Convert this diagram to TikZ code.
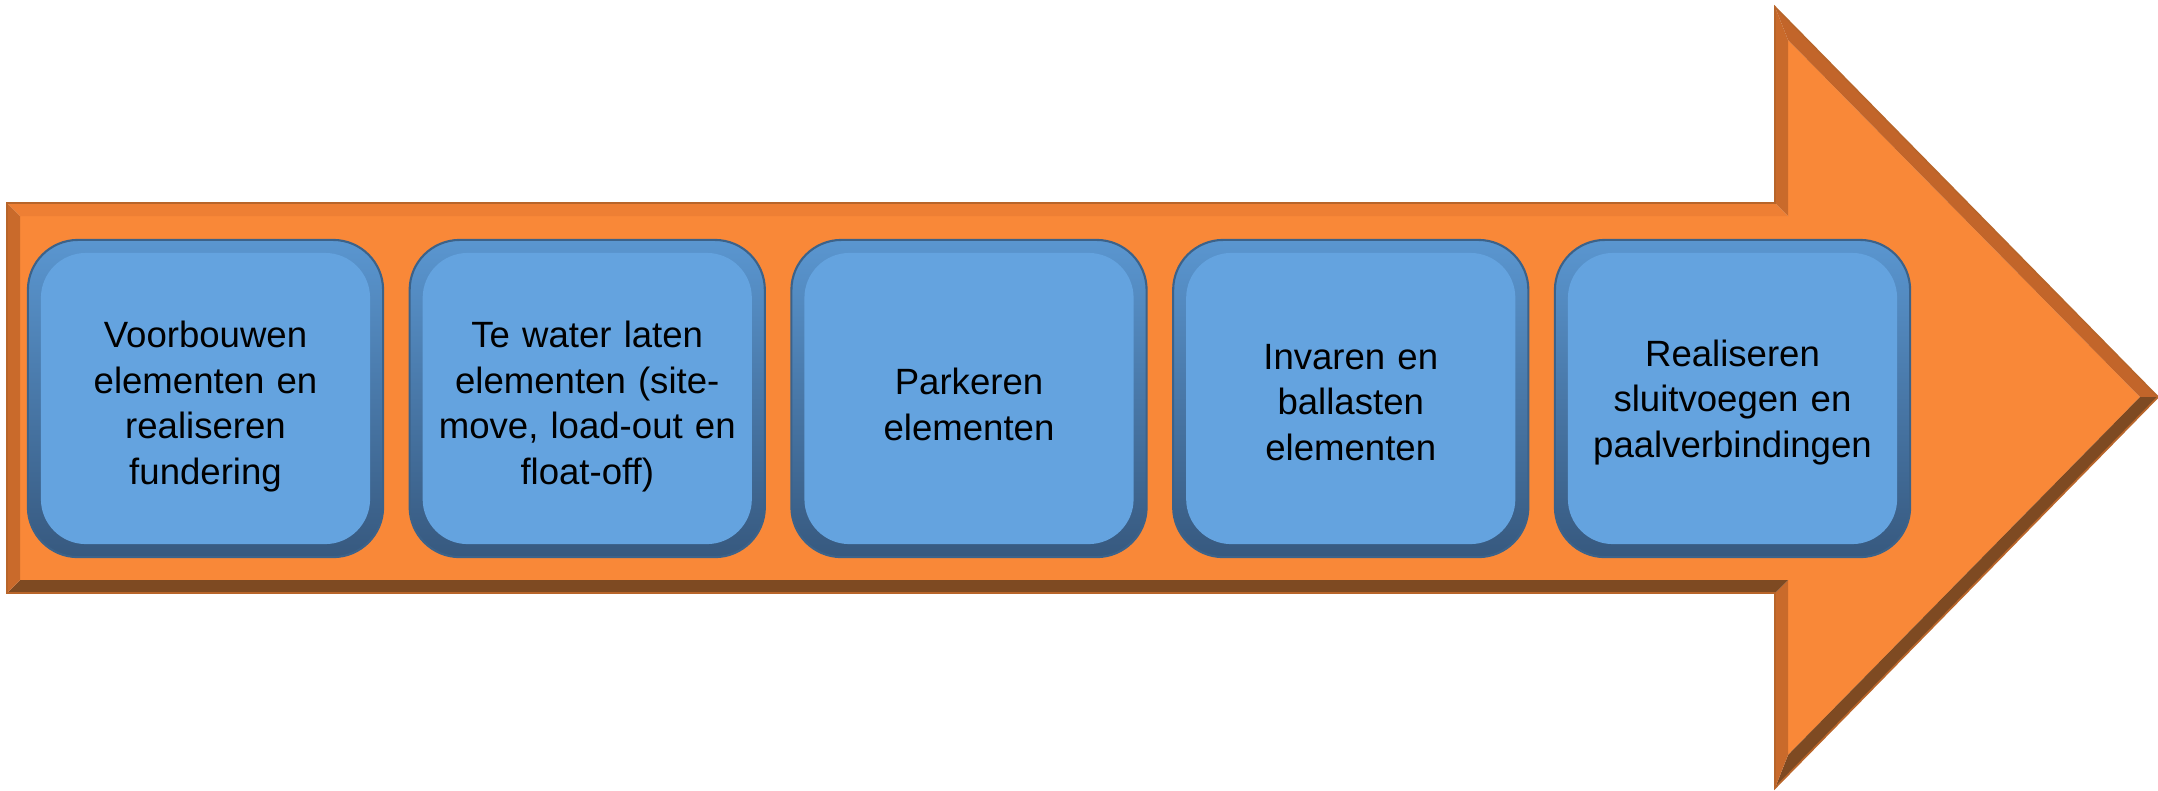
\documentclass[tikz,border=0pt]{standalone}
\usepackage{fontspec}
\setmainfont{Liberation Sans}
\definecolor{arrowfill}{HTML}{F98838}
\definecolor{bevtop}{HTML}{EE7F34}
\definecolor{bevside}{HTML}{C96A2B}
\definecolor{bevdiag}{HTML}{C2652A}
\definecolor{bevdark}{HTML}{7E4A22}
\definecolor{arrowedge}{HTML}{B8652A}
\definecolor{boxfill}{HTML}{64A3DF}
\definecolor{boxlight}{HTML}{5A96D0}
\definecolor{boxdark}{HTML}{37597F}
\definecolor{boxedge}{HTML}{3C6289}
\tikzset{
  boxouter/.style={rounded corners=0.5cm, minimum width=3.55cm, minimum height=3.17cm,
    top color=boxlight, bottom color=boxdark, draw=boxedge, line width=0.6pt, inner sep=0pt},
  boxinner/.style={rounded corners=0.45cm, minimum width=3.29cm, minimum height=2.91cm,
    fill=boxfill, inner sep=0pt, text width=3.1cm, align=center,
    font=\fontsize{10.4}{13}\selectfont, text=black},
  lbl/.style={inner sep=0pt, text width=3.1cm, align=center,
    font=\fontsize{10.4}{13}\selectfont, text=black}
}
\begin{document}
\begin{tikzpicture}[x=0.01cm,y=-0.01cm]
\useasboundingbox (0,0) rectangle (2158,790);
% outer and inner outline points
\coordinate (O1) at (7,203);
\coordinate (O2) at (1775,203);
\coordinate (O3) at (1775,7);
\coordinate (O4) at (2158,397);
\coordinate (O5) at (1775,788);
\coordinate (O6) at (1775,593);
\coordinate (O7) at (7,593);
\coordinate (I1) at (20,216);
\coordinate (I2) at (1788,216);
\coordinate (I3) at (1788,40);
\coordinate (I4) at (2140,397);
\coordinate (I5) at (1788,755);
\coordinate (I6) at (1788,580);
\coordinate (I7) at (20,580);
% body
\fill[arrowfill] (I1) -- (I2) -- (I3) -- (I4) -- (I5) -- (I6) -- (I7) -- cycle;
% bevel faces
\fill[bevtop] (O1) -- (O2) -- (I2) -- (I1) -- cycle;
\fill[bevside] (O2) -- (O3) -- (I3) -- (I2) -- cycle;
\fill[bevdiag] (O3) -- (O4) -- (I4) -- (I3) -- cycle;
\fill[bevdark] (O4) -- (O5) -- (I5) -- (I4) -- cycle;
\fill[bevside] (O5) -- (O6) -- (I6) -- (I5) -- cycle;
\fill[bevdark] (O6) -- (O7) -- (I7) -- (I6) -- cycle;
\fill[bevside] (O7) -- (O1) -- (I1) -- (I7) -- cycle;
\draw[arrowedge, line width=0.5pt] (O1) -- (O2) -- (O3) -- (O4) -- (O5) -- (O6) -- (O7) -- cycle;
% boxes
\node[boxouter] (b1) at (205.5,398.5) {};
\node[boxinner] (i1) at (b1.center) {};
\node[lbl] (t1) at ([yshift=-0.08cm]b1.center) {Voorbouwen\\elementen en\\realiseren\\fundering};
\node[boxouter] (b2) at (587.25,398.5) {};
\node[boxinner] (i2) at (b2.center) {};
\node[lbl] (t2) at ([yshift=-0.08cm]b2.center) {Te water laten\\elementen (site-\\move, load-out en\\float-off)};
\node[boxouter] (b3) at (969,398.5) {};
\node[boxinner] (i3) at (b3.center) {};
\node[lbl] (t3) at ([yshift=-0.06cm]b3.center) {Parkeren\\elementen};
\node[boxouter] (b4) at (1350.75,398.5) {};
\node[boxinner] (i4) at (b4.center) {};
\node[lbl] (t4) at ([yshift=-0.04cm]b4.center) {Invaren en\\ballasten\\elementen};
\node[boxouter] (b5) at (1732.5,398.5) {};
\node[boxinner] (i5) at (b5.center) {};
\node[lbl] (t5) at ([yshift=-0.04cm]b5.center) {Realiseren\\sluitvoegen en\\paalverbindingen};
\end{tikzpicture}
\end{document}
